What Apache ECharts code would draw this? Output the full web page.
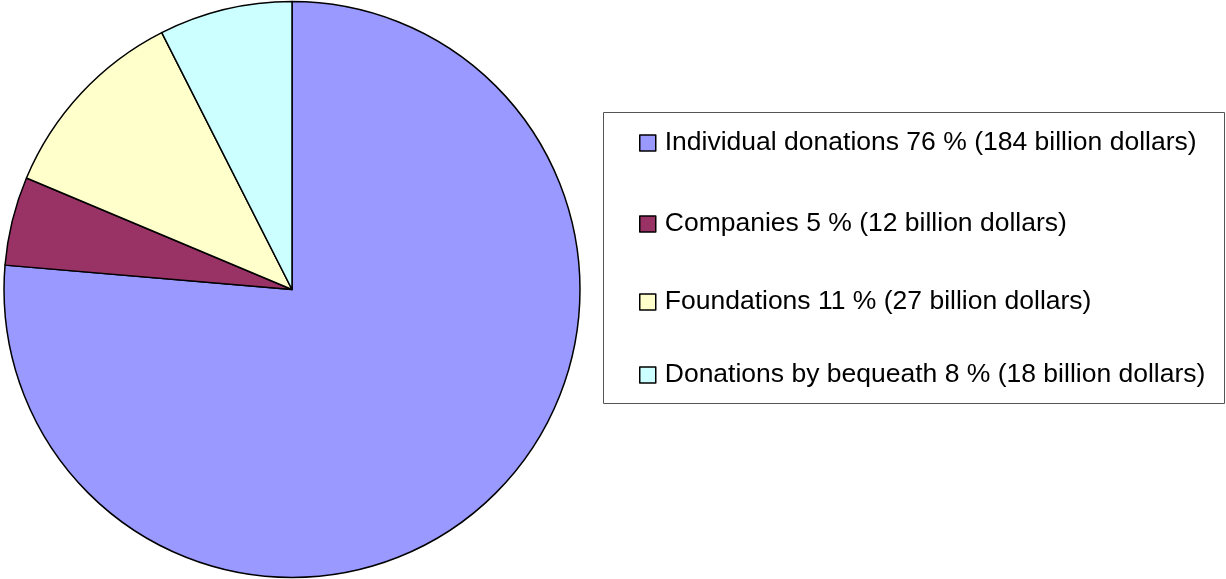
<!DOCTYPE html>
<html>
<head>
<meta charset="utf-8">
<title>Donations</title>
<script src="https://cdn.jsdelivr.net/npm/echarts@6/dist/echarts.min.js"></script>
<style>
  html, body { margin: 0; padding: 0; background: #ffffff; }
  #chart { width: 1226px; height: 579px; }
</style>
</head>
<body>
<div id="chart"></div>
<script>
// Sources of donations
const categories = ['Individual donations', 'Companies', 'Foundations', 'Donations by bequeath'];
const billions = [184, 12, 27, 18];
const percents = [76, 5, 11, 8];
const colors = ['#9999FF', '#993366', '#FFFFCC', '#CCFFFF'];

// Vertical centre of each legend row
const legendRowsY = [143, 224, 302, 375];

const chart = echarts.init(document.getElementById('chart'), null, { renderer: 'canvas' });

const legendText = {};
categories.forEach((c, i) => {
  legendText[c] = c + ' ' + percents[i] + ' % (' + billions[i] + ' billion dollars)';
});

const legends = categories.map((c, i) => ({
  data: [c],
  left: 639,
  top: legendRowsY[i] - 15,
  orient: 'vertical',
  padding: 0,
  itemWidth: 16,
  itemHeight: 16,
  itemGap: 0,
  selectedMode: false,
  icon: 'rect',
  itemStyle: { borderColor: '#000000', borderWidth: 1.5 },
  formatter: name => legendText[name],
  textStyle: {
    fontFamily: 'Liberation Sans, Arial, sans-serif',
    fontSize: 26.5,
    lineHeight: 30,
    color: '#000000',
    padding: [0, 0, 0, 4]
  }
}));

chart.setOption({
  backgroundColor: '#ffffff',
  animation: false,
  graphic: [{
    type: 'rect',
    shape: { x: 603.5, y: 112.5, width: 621, height: 291 },
    style: { fill: 'none', stroke: '#555555', lineWidth: 1 },
    z: 0
  }],
  legend: legends,
  series: [{
    type: 'pie',
    center: [292, 289.5],
    radius: 288,
    startAngle: 90,
    clockwise: true,
    label: { show: false },
    labelLine: { show: false },
    emphasis: { disabled: true },
    itemStyle: { borderColor: '#000000', borderWidth: 1.5 },
    data: categories.map((c, i) => ({
      name: c,
      value: billions[i],
      itemStyle: { color: colors[i] }
    }))
  }]
});
</script>
</body>
</html>
